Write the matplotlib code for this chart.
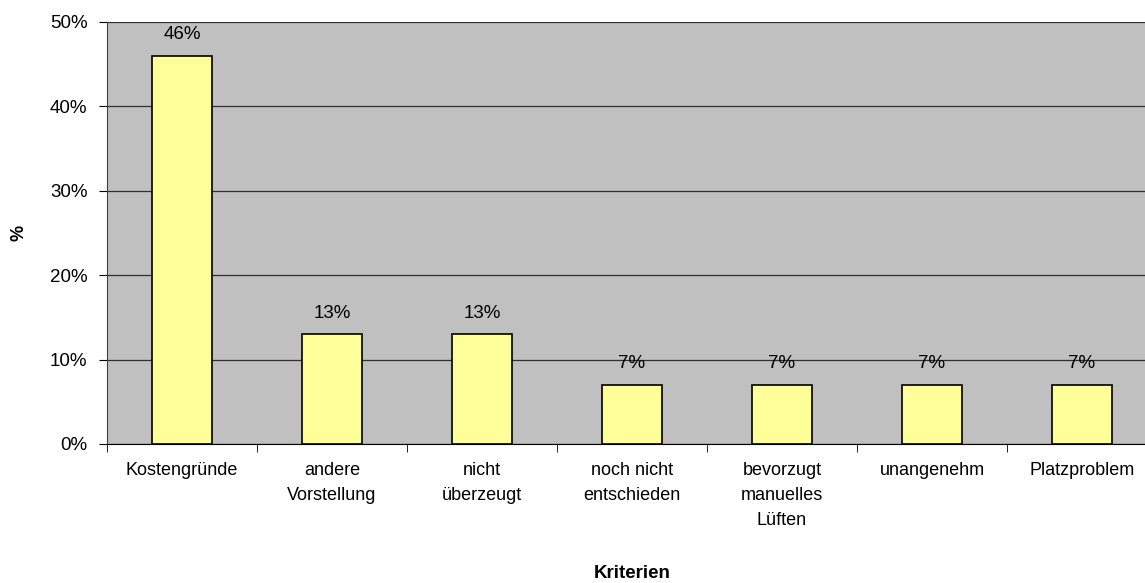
import matplotlib.pyplot as plt
import numpy as np
from matplotlib.ticker import FuncFormatter, FixedLocator

plt.rcParams['font.family'] = ['Liberation Sans', 'DejaVu Sans']

categories = ["Kostengründe", "andere\nVorstellung", "nicht\nüberzeugt", "noch nicht\nentschieden",
              "bevorzugt\nmanuelles\nLüften", "unangenehm", "Platzproblem"]
values = [46, 13, 13, 7, 7, 7, 7]
y_ticks = [0, 10, 20, 30, 40, 50]

fig = plt.figure(figsize=(11.45, 5.83), dpi=100)
ax = fig.add_axes([107 / 1145, 1 - 444 / 583, 1050 / 1145, 422 / 583])
ax.set_facecolor("#C0C0C0")

x = np.arange(len(categories))
ax.bar(x, values, width=0.4, color="#FFFF99", edgecolor="black", linewidth=1.2, zorder=3)

# value labels above bars
for xi, v in zip(x, values):
    ax.text(xi, v + 1.5, f"{v}%", ha="center", va="bottom", fontsize=13.5, zorder=4)

ax.set_xlim(-0.5, len(categories) - 0.5)
ax.set_ylim(0, 50)
ax.set_yticks(y_ticks)
ax.yaxis.set_major_formatter(FuncFormatter(lambda v, p: f"{int(v)}%"))
ax.grid(axis="y", color="#303030", linewidth=0.9, zorder=1)

ax.set_xticks(x)
ax.set_xticklabels(categories, fontsize=13, linespacing=1.6)
ax.xaxis.set_minor_locator(FixedLocator(np.arange(len(categories) + 1) - 0.5))
ax.tick_params(axis="x", which="major", length=0, pad=13)
ax.tick_params(axis="x", which="minor", length=6, color="black")
ax.tick_params(axis="y", length=6, labelsize=13.5, pad=8)

for s in ["top", "right"]:
    ax.spines[s].set_visible(False)
ax.spines["left"].set_color("#404040")
ax.spines["bottom"].set_color("black")

ax.set_ylabel("%", fontsize=13, fontweight="bold", labelpad=16)
ax.set_xlabel("Kriterien", fontsize=13.5, fontweight="bold", labelpad=26)

fig.savefig("out.png", dpi=100)
